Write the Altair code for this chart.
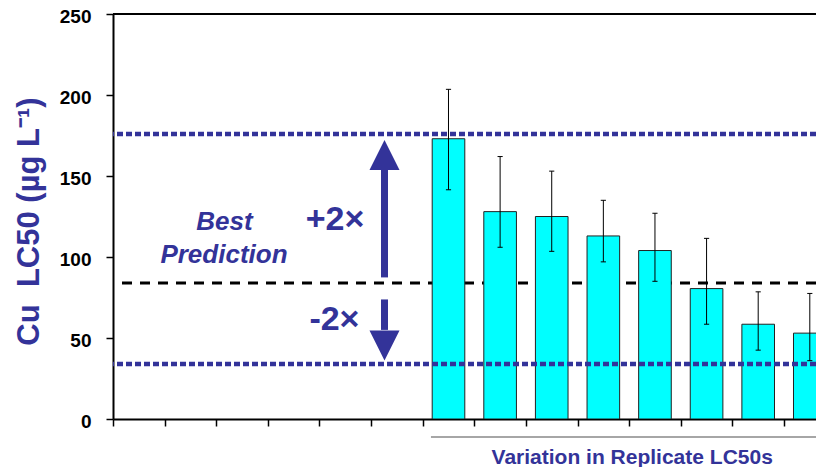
import altair as alt
import pandas as pd

# ---- data ----
slots = [6, 7, 8, 9, 10, 11, 12, 13]            # x slot of each replicate bar
lc50 = [173, 128, 125, 113, 104, 80.5, 58.5, 53]
err_hi = [203.5, 162, 153, 135, 127, 111.5, 78.5, 77.5]
err_lo = [141.5, 106, 103.5, 97, 85, 58.5, 42.5, 36]
best_pred = 84
upper_2x = 176
lower_2x = 34
tick_slots = list(range(14))
y_ticks = [0, 50, 100, 150, 200, 250]
x_max = 13.62          # visible part of the category axis
group_start = 6.16     # start of the "replicate" bracket line

# arrows (x slot, shaft from/to, head centre)
arrow_x = 5.26
up_shaft = (87.4, 154)
up_head = 163
down_shaft = (73.8, 55)
down_head = 45.4

texts = pd.DataFrame({
    "x": [2.16, 2.15, 4.30, 4.29],
    "y": [121.4, 101.0, 122.6, 60.9],
    "t": ["Best", "Prediction", "+2×", "-2×"],
})

FONT = "Liberation Sans"
NAVY = "#333399"

bars_df = pd.DataFrame({"slot": slots, "lc50": lc50, "hi": err_hi, "lo": err_lo})
bars_df["center"] = bars_df["slot"] + 0.5
bars_df["left"] = bars_df["center"] - 0.316
bars_df["right"] = bars_df["center"] + 0.316
bars_df["capl"] = bars_df["center"] - 0.05
bars_df["capr"] = bars_df["center"] + 0.05

xscale = alt.Scale(domain=[0, x_max], nice=False, zero=False)
yscale = alt.Scale(domain=[0, 250], nice=False)

xaxis = alt.Axis(values=tick_slots, labels=False, tickSize=7, tickColor="black",
                 tickWidth=1.5, domainColor="black", domainWidth=2, grid=False,
                 title="Variation in Replicate LC50s", titleFont=FONT,
                 titleFontSize=21, titleFontWeight="bold", titleColor=NAVY,
                 titleX=518.7, titleY=38, titleBaseline="middle", titleAlign="center")
yaxis = alt.Axis(values=y_ticks, tickSize=7, tickColor="black", tickWidth=1.5,
                 domainColor="black", domainWidth=2, grid=False,
                 labelFont=FONT, labelFontSize=19, labelFontWeight="bold",
                 labelColor="black", labelPadding=15, labelOffset=2,
                 title="Cu\u00a0\u00a0LC50 (µg L⁻¹)", titleFont=FONT, titleFontSize=31,
                 titleFontWeight="bold", titleColor=NAVY, titleAngle=270,
                 titleX=-84, titleY=207, titleBaseline="middle", titleAlign="center")


def X(field):
    return alt.X(field, type="quantitative", scale=xscale, axis=xaxis)


def Y(field):
    return alt.Y(field, type="quantitative", scale=yscale, axis=yaxis)


hlines = pd.DataFrame({"v": [best_pred]})
dotted = pd.DataFrame({"v": [upper_2x, lower_2x]})

dashed_layer = alt.Chart(hlines).mark_rule(
    color="black", strokeWidth=3, strokeDash=[10, 8]
).encode(y=Y("v"))

bar_layer = alt.Chart(bars_df).mark_rect(
    fill="#00FFFF", stroke="#222222", strokeWidth=1, clip=True
).encode(x=X("left"), x2="right", y=Y("lc50"), y2=alt.datum(0))

dotted_layer = alt.Chart(dotted).mark_rule(
    color=NAVY, strokeWidth=4.5, strokeDash=[6, 3]
).encode(y=Y("v"))

err_layer = alt.Chart(bars_df).mark_rule(color="black", strokeWidth=1).encode(
    x=X("center"), y=Y("lo"), y2="hi")
cap_hi = alt.Chart(bars_df).mark_rule(color="black", strokeWidth=1).encode(
    x=X("capl"), x2="capr", y=Y("hi"))
cap_lo = alt.Chart(bars_df).mark_rule(color="black", strokeWidth=1).encode(
    x=X("capl"), x2="capr", y=Y("lo"))

top_border = alt.Chart(pd.DataFrame({"v": [250]})).mark_rule(
    color="black", strokeWidth=2).encode(y=Y("v"))

bracket = alt.Chart(pd.DataFrame({"a": [group_start], "b": [x_max]})).mark_rule(
    color="#888888", strokeWidth=1.5).encode(x=X("a"), x2="b", y=alt.value(423))

shafts = pd.DataFrame({"x": [arrow_x, arrow_x],
                       "y1": [up_shaft[0], down_shaft[0]],
                       "y2": [up_shaft[1], down_shaft[1]]})
shaft_layer = alt.Chart(shafts).mark_rule(color=NAVY, strokeWidth=7).encode(
    x=X("x"), y=Y("y1"), y2="y2")

up_layer = alt.Chart(pd.DataFrame({"x": [arrow_x], "y": [up_head]})).mark_point(
    shape="M -1 1 L 1 1 L 0 -1 Z", filled=True, fill=NAVY, opacity=1,
    size=900, strokeWidth=0).encode(x=X("x"), y=Y("y"))
down_layer = alt.Chart(pd.DataFrame({"x": [arrow_x], "y": [down_head]})).mark_point(
    shape="M -1 -1 L 1 -1 L 0 1 Z", filled=True, fill=NAVY, opacity=1,
    size=900, strokeWidth=0).encode(x=X("x"), y=Y("y"))

label_layer = alt.Chart(texts.iloc[:2]).mark_text(
    font=FONT, fontSize=26, fontWeight="bold", fontStyle="italic", color=NAVY,
    align="center", baseline="middle").encode(x=X("x"), y=Y("y"), text="t")
mult_layer = alt.Chart(texts.iloc[2:]).mark_text(
    font=FONT, fontSize=34, fontWeight="bold", color=NAVY,
    align="center", baseline="middle").encode(x=X("x"), y=Y("y"), text="t")

chart = alt.layer(
    dashed_layer, bar_layer, dotted_layer, err_layer, cap_hi, cap_lo,
    top_border, bracket, shaft_layer, up_layer, down_layer, label_layer, mult_layer
).properties(
    width=703, height=405,
    autosize=alt.AutoSizeParams(type="none"),
    padding={"left": 105, "top": 6, "right": 0, "bottom": 48},
    background="white",
).configure_view(stroke=None)

chart.save("out.html", embed_options={"renderer": "svg", "actions": False})
